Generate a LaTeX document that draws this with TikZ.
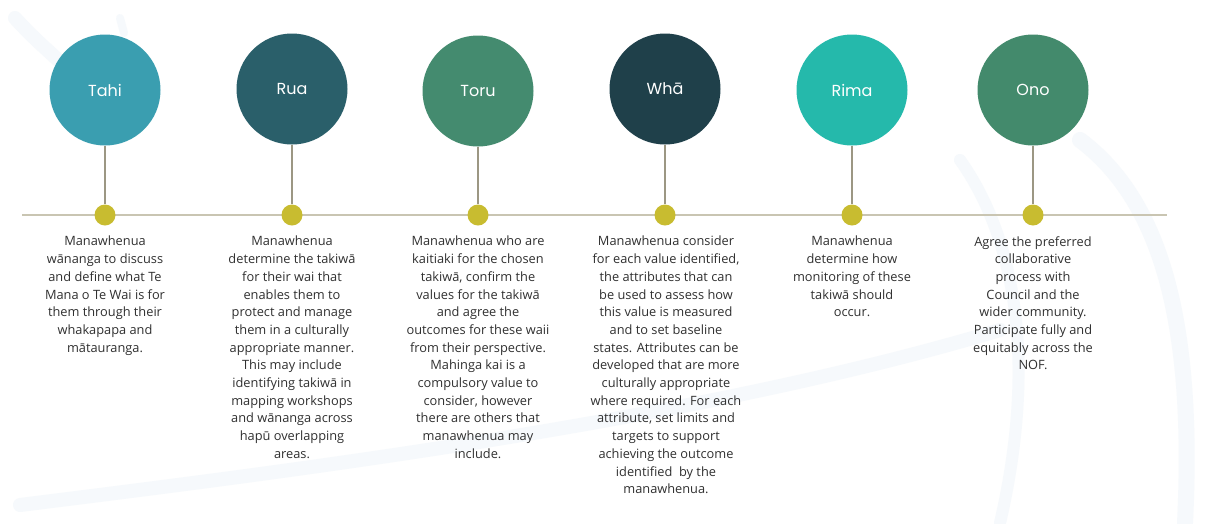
\documentclass[tikz,border=0pt]{standalone}
\usepackage{fontspec}
\setmainfont{Open Sans}
\newfontfamily\headfont{Poppins}
\definecolor{cTahi}{HTML}{3A9EB0}
\definecolor{cRua}{HTML}{2A5F6A}
\definecolor{cToru}{HTML}{448B6F}
\definecolor{cWha}{HTML}{1F404A}
\definecolor{cRima}{HTML}{25B9AB}
\definecolor{cOno}{HTML}{438A6C}
\definecolor{dotc}{HTML}{C8BC30}
\definecolor{linec}{HTML}{C9C5B2}
\definecolor{stemc}{HTML}{9C9783}
\definecolor{txtc}{HTML}{303030}
\definecolor{swoosh}{HTML}{F6F9FC}
\tikzset{
  stage/.style={circle, minimum size=111pt, inner sep=0pt, text=white,
    font=\headfont\fontsize{16}{18}\selectfont},
  tdot/.style={circle, fill=dotc, minimum size=21pt, inner sep=0pt},
  stem/.style={draw=stemc, line width=1.6pt},
  axis/.style={draw=linec, line width=1.6pt},
  desc/.style={anchor=north, align=center, text=txtc, inner sep=0pt,
    font=\fontsize{12.8}{17.7}\selectfont},
  bgarc/.style={draw=swoosh, line width=14pt, line cap=round}
}
\begin{document}
\begin{tikzpicture}[x=1pt,y=-1pt]
\useasboundingbox (0,0) rectangle (1208,523);
\fill[white] (0,0) rectangle (1208,523);
% faint background swooshes
\draw[bgarc] (15,18) .. controls (35,40) and (50,52) .. (58,60);
\draw[bgarc,line width=8pt] (120,18) .. controls (122,25) .. (124,33);
\draw[bgarc,line width=16pt] (1080,140) .. controls (1160,200) and (1195,320) .. (1185,523);
\draw[bgarc,line width=12pt] (960,160) .. controls (1010,230) and (1040,350) .. (1000,523);
\draw[bgarc,line width=14pt] (20,505) .. controls (300,470) and (700,420) .. (1000,330);
% axis
\coordinate (axL) at (22,215);
\coordinate (axR) at (1167,215);
\draw[axis] (axL) -- (axR);
% stages
\foreach \n/\x/\y/\c/\lab in {t1/105/90/cTahi/Tahi, t2/292/89/cRua/Rua, t3/478/91/cToru/Toru, t4/665/89/cWha/Whā, t5/852/90/cRima/Rima, t6/1033/90/cOno/Ono}{
  \node[stage, fill=\c] (c\n) at (\x,\y) {\lab};
  \node[tdot] (d\n) at (\x,215) {};
  \draw[stem] (c\n.south) -- (d\n.north);
}
\node[desc] (x1) at (105,236) {Manawhenua\\wānanga to discuss\\and define what Te\\Mana o Te Wai is for\\them through their\\whakapapa and\\mātauranga.};
\node[desc] (x2) at (292,236) {Manawhenua\\determine the takiwā\\for their wai that\\enables them to\\protect and manage\\them in a culturally\\appropriate manner.\\This may include\\identifying takiwā in\\mapping workshops\\and wānanga across\\hapū overlapping\\areas.};
\node[desc] (x3) at (478,236) {Manawhenua who are\\kaitiaki for the chosen\\takiwā, confirm the\\values for the takiwā\\and agree the\\outcomes for these waii\\from their perspective.\\Mahinga kai is a\\compulsory value to\\consider, however\\there are others that\\manawhenua may\\include.};
\node[desc] (x4) at (666,236) {Manawhenua consider\\for each value identified,\\the attributes that can\\be used to assess how\\this value is measured\\and to set baseline\\states. Attributes can be\\developed that are more\\culturally appropriate\\where required. For each\\attribute, set limits and\\targets to support\\achieving the outcome\\identified~ by the\\manawhenua.};
\node[desc] (x5) at (852,236) {Manawhenua\\determine how\\monitoring of these\\takiwā should\\occur.};
\node[desc] (x6) at (1033,236) {Agree the preferred\\collaborative\\process with\\Council and the\\wider community.\\Participate fully and\\equitably across the\\NOF.};
\end{tikzpicture}
\end{document}
